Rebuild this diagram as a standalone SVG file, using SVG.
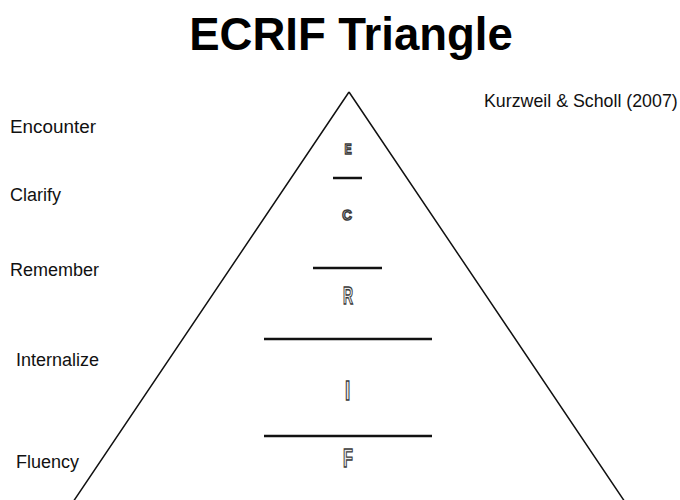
<svg xmlns="http://www.w3.org/2000/svg" width="680" height="500" viewBox="0 0 680 500">
<style>
.lbl{font-family:"Liberation Sans",Arial,sans-serif;font-size:18px;fill:#111}
.ltr{font-family:"Liberation Sans",Arial,sans-serif;font-weight:bold;fill:#ececec;stroke:#3a3a3a;stroke-width:1.4;text-anchor:middle}
.bar{stroke:#111;stroke-width:2.5}
</style>
<rect width="680" height="500" fill="#fff"/>
<text x="351" y="50" text-anchor="middle" style="font-family:'Liberation Sans',Arial,sans-serif;font-weight:bold;font-size:45.5px;fill:#000">ECRIF Triangle</text>
<text x="484" y="107" class="lbl" style="font-size:17.8px">Kurzweil &amp; Scholl (2007)</text>
<g id="triangle"><path d="M349 92 L73 502 M349 92 L625 502" stroke="#111" stroke-width="1.5" fill="none"/></g>
<g id="labels">
<text x="10" y="133" class="lbl" textLength="86" lengthAdjust="spacingAndGlyphs">Encounter</text>
<text x="10" y="201" class="lbl">Clarify</text>
<text x="10" y="276" class="lbl">Remember</text>
<text x="16" y="366" class="lbl">Internalize</text>
<text x="16" y="468" class="lbl">Fluency</text>
</g>
<g id="dividers">
<line class="bar" x1="333" y1="178" x2="362" y2="178"/>
<line class="bar" x1="313" y1="268" x2="382" y2="268"/>
<line class="bar" x1="264" y1="339" x2="432" y2="339"/>
<line class="bar" x1="264" y1="436" x2="432" y2="436"/>
</g>
<g id="letters">
<text class="ltr" font-size="15" transform="translate(348,154) scale(0.72,1)">E</text>
<text class="ltr" font-size="14" transform="translate(347,220) scale(0.95,1)">C</text>
<text class="ltr" font-size="24" transform="translate(348,304) scale(0.58,1)">R</text>
<text class="ltr" font-size="27" transform="translate(347.5,400) scale(0.7,1)">I</text>
<text class="ltr" font-size="25" transform="translate(348,467) scale(0.65,1)">F</text>
</g>
</svg>
